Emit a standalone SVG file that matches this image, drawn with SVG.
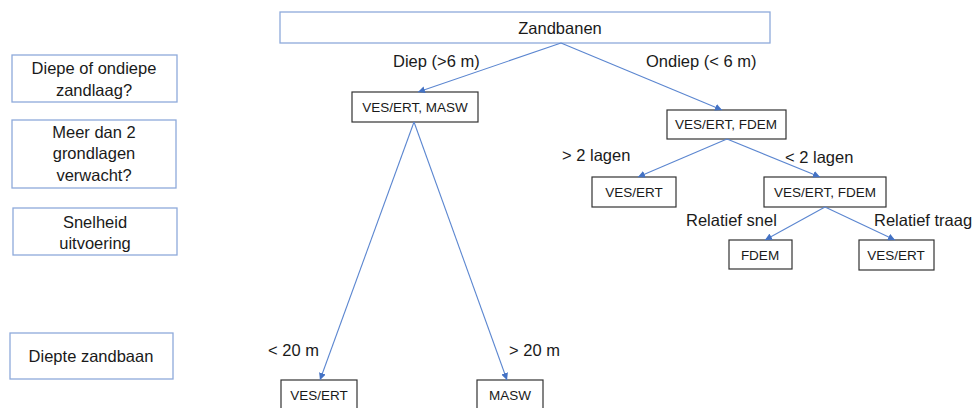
<svg xmlns="http://www.w3.org/2000/svg" width="976" height="408" viewBox="0 0 976 408">
<style>
text{font-family:"Liberation Sans",Arial,sans-serif;fill:#1a1a1a}
.q rect{fill:#fff;stroke:#8eaadb;stroke-width:1.3}
.q text{font-size:16.5px;text-anchor:middle}
.n rect{fill:#fff;stroke:#333;stroke-width:1.2}
.n text{font-size:13.5px;text-anchor:middle}
.c line{stroke:#5b86d0;stroke-width:1.1;marker-end:url(#ah)}
.lbl{font-size:16.5px}
</style>
<defs>
<marker id="ah" viewBox="0 0 10 10" refX="10" refY="5" markerWidth="7" markerHeight="7" orient="auto" markerUnits="userSpaceOnUse">
<path d="M0,0 L10,5 L0,10 z" fill="#4472c4"/>
</marker>
</defs>
<rect width="976" height="408" fill="#fff"/>
<g id="q1" class="q"><rect x="12" y="55" width="165" height="47"/><text x="94" y="74">Diepe of ondiepe</text><text x="94" y="96">zandlaag?</text></g>
<g id="q2" class="q"><rect x="12" y="120" width="164" height="68"/><text x="94" y="138">Meer dan 2</text><text x="94" y="159">grondlagen</text><text x="94" y="181">verwacht?</text></g>
<g id="q3" class="q"><rect x="13" y="208" width="164" height="47"/><text x="95" y="228">Snelheid</text><text x="95" y="249">uitvoering</text></g>
<g id="q4" class="q"><rect x="10" y="333" width="163" height="46"/><text x="91" y="362">Diepte zandbaan</text></g>
<g id="root" class="q"><rect x="280" y="12" width="490" height="31"/><text x="560" y="34" style="font-size:16.5px">Zandbanen</text></g>
<g id="n1" class="n"><rect x="352" y="92" width="126" height="30"/><text x="415" y="112">VES/ERT, MASW</text></g>
<g id="n2" class="n"><rect x="667" y="110" width="119" height="29"/><text x="726" y="129">VES/ERT, FDEM</text></g>
<g id="n3" class="n"><rect x="592" y="177" width="84" height="30"/><text x="634" y="197">VES/ERT</text></g>
<g id="n4" class="n"><rect x="764" y="177" width="122" height="30"/><text x="825" y="197">VES/ERT, FDEM</text></g>
<g id="n5" class="n"><rect x="729" y="240" width="63" height="29"/><text x="760" y="260">FDEM</text></g>
<g id="n6" class="n"><rect x="859" y="240" width="75" height="30"/><text x="896" y="260">VES/ERT</text></g>
<g id="n7" class="n"><rect x="281" y="380" width="76" height="32"/><text x="319" y="400">VES/ERT</text></g>
<g id="n8" class="n"><rect x="477" y="380" width="66" height="32"/><text x="510" y="400">MASW</text></g>
<g id="connectors" class="c">
<line x1="561" y1="43" x2="418" y2="92"/>
<line x1="561" y1="43" x2="722" y2="110"/>
<line x1="414" y1="122" x2="320" y2="380"/>
<line x1="414" y1="122" x2="507" y2="380"/>
<line x1="727" y1="139" x2="638" y2="177"/>
<line x1="727" y1="139" x2="820" y2="177"/>
<line x1="825" y1="207" x2="765" y2="240"/>
<line x1="825" y1="207" x2="895" y2="240"/>
</g>
<g id="labels" class="lbl">
<text x="393" y="67">Diep (&gt;6 m)</text>
<text x="646" y="67">Ondiep (&lt; 6 m)</text>
<text x="562" y="161">&gt; 2 lagen</text>
<text x="785" y="163">&lt; 2 lagen</text>
<text x="686" y="226">Relatief snel</text>
<text x="874" y="226">Relatief traag</text>
<text x="268" y="356">&lt; 20 m</text>
<text x="509" y="356">&gt; 20 m</text>
</g>
</svg>
